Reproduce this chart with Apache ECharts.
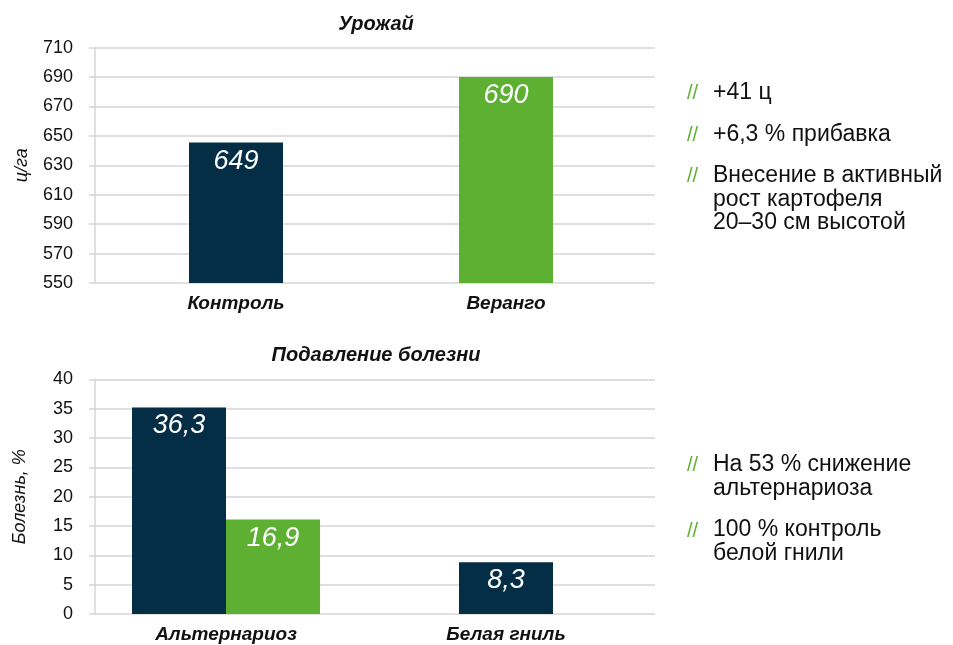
<!DOCTYPE html>
<html><head><meta charset="utf-8">
<script src="https://cdn.jsdelivr.net/npm/echarts@6/dist/echarts.min.js"></script>
<style>html,body{margin:0;padding:0;background:#fff}#c{width:953px;height:645px}</style>
</head><body><div id="c"></div>
<script>
// ---- data ----
const yieldCategories = ['Контроль', 'Веранго'];
const yieldValues = [645.5, 690];
const yieldLabels = ['649', '690'];
const yieldTicks = [550, 710, 20];

const diseaseCategories = ['Альтернариоз', 'Белая гниль'];
const controlValues = [35.2, null];
const verangoValues = [16.1, null];
const whiteRotValues = [null, 8.8];
const controlLabels = ['36,3', ''];
const verangoLabels = ['16,9', ''];
const whiteRotLabels = ['', '8,3'];
const diseaseTicks = [0, 40, 5];

const notesTop = ['+41 ц', '+6,3 % прибавка', 'Внесение в активный\nрост картофеля\n20–30 см высотой'];
const notesBottom = ['На 53 % снижение\nальтернариоза', '100 % контроль\nбелой гнили'];

// ---- styles ----
const DARK = '#032e46', GREEN = '#5eb033', GRID = '#d6d6d6', TXT = '#111111';
const FONT = '"Liberation Sans", Arial, sans-serif';

const chart = echarts.init(document.getElementById('c'));

function valueAxis(gi, ticks, name, nameGap, visible) {
  return {
    type: 'value', gridIndex: gi, min: ticks[0], max: ticks[1], interval: ticks[2],
    show: visible,
    name: name, nameLocation: 'middle', nameGap: nameGap, nameRotate: 90,
    nameTextStyle: { fontFamily: FONT, fontStyle: 'italic', fontSize: 18, color: TXT },
    axisLine: { show: true, lineStyle: { color: GRID, width: 1.5 } },
    axisTick: { show: true, length: 6, lineStyle: { color: GRID, width: 1.5 } },
    splitLine: { show: true, lineStyle: { color: GRID, width: 1.5 } },
    axisLabel: { fontFamily: FONT, fontSize: 18, color: TXT, margin: 22 }
  };
}
function catAxis(gi, cats, showLabels) {
  return {
    type: 'category', gridIndex: gi, data: cats,
    axisLine: { show: false }, axisTick: { show: false }, splitLine: { show: false },
    axisLabel: { show: showLabels, fontFamily: FONT, fontSize: 19, fontStyle: 'italic', fontWeight: 'bold', color: TXT, margin: 11 }
  };
}
function barLabel(texts) {
  return {
    show: true, position: 'insideTop', distance: 5,
    fontFamily: FONT, fontSize: 27, fontStyle: 'italic', color: '#ffffff',
    formatter: p => texts[p.dataIndex]
  };
}

const graphics = [];
function addNote(x, yTop, text, lh) {
  graphics.push({ type: 'text', left: x, top: yTop + 1, style: { text: '//', fill: GREEN, font: '20px ' + FONT, lineHeight: lh } });
  graphics.push({ type: 'text', left: x + 26, top: yTop, style: { text: text, fill: TXT, font: '23px ' + FONT, lineHeight: lh } });
}
const topY = [81, 123, 164];
notesTop.forEach((t, i) => addNote(687, topY[i], t, 23.5));
const botY = [452.5, 518];
notesBottom.forEach((t, i) => addNote(687, botY[i], t, 24));

chart.setOption({
  animation: false,
  backgroundColor: '#ffffff',
  title: [
    { text: 'Урожай', left: 371, top: 9, textAlign: 'center',
      textStyle: { fontFamily: FONT, fontSize: 20, fontStyle: 'italic', fontWeight: 'bold', color: TXT } },
    { text: 'Подавление болезни', left: 371, top: 340, textAlign: 'center',
      textStyle: { fontFamily: FONT, fontSize: 20, fontStyle: 'italic', fontWeight: 'bold', color: TXT } }
  ],
  grid: [
    { left: 95, right: 298, top: 47.7, bottom: 362 },
    { left: 101, right: 312, top: 47.7, bottom: 362 },
    { left: 95, right: 298, top: 379.3, bottom: 31 },
    { left: 86, right: 307, top: 379.3, bottom: 31 }
  ],
  xAxis: [
    Object.assign(catAxis(0, yieldCategories, false), { show: false }),
    catAxis(1, yieldCategories, true),
    Object.assign(catAxis(2, diseaseCategories, false), { show: false }),
    catAxis(3, diseaseCategories, true),
    Object.assign(catAxis(3, diseaseCategories, false), { show: false })
  ],
  yAxis: [
    valueAxis(0, yieldTicks, 'ц/га', 64, true),
    valueAxis(1, yieldTicks, '', 0, false),
    valueAxis(2, diseaseTicks, 'Болезнь, %', 66, true),
    valueAxis(3, diseaseTicks, '', 0, false)
  ],
  series: [
    { type: 'bar', xAxisIndex: 1, yAxisIndex: 1, barWidth: 94,
      data: yieldValues.map((v, i) => ({ value: v, itemStyle: { color: i === 0 ? DARK : GREEN } })),
      label: barLabel(yieldLabels) },
    { type: 'bar', xAxisIndex: 3, yAxisIndex: 3, barWidth: 94, barGap: '0%',
      data: controlValues, itemStyle: { color: DARK }, label: barLabel(controlLabels) },
    { type: 'bar', xAxisIndex: 3, yAxisIndex: 3, barWidth: 94, barGap: '0%',
      data: verangoValues, itemStyle: { color: GREEN }, label: barLabel(verangoLabels) },
    { type: 'bar', xAxisIndex: 4, yAxisIndex: 3, barWidth: 94,
      data: whiteRotValues, itemStyle: { color: DARK }, label: barLabel(whiteRotLabels) }
  ],
  graphic: graphics
});
</script></body></html>
